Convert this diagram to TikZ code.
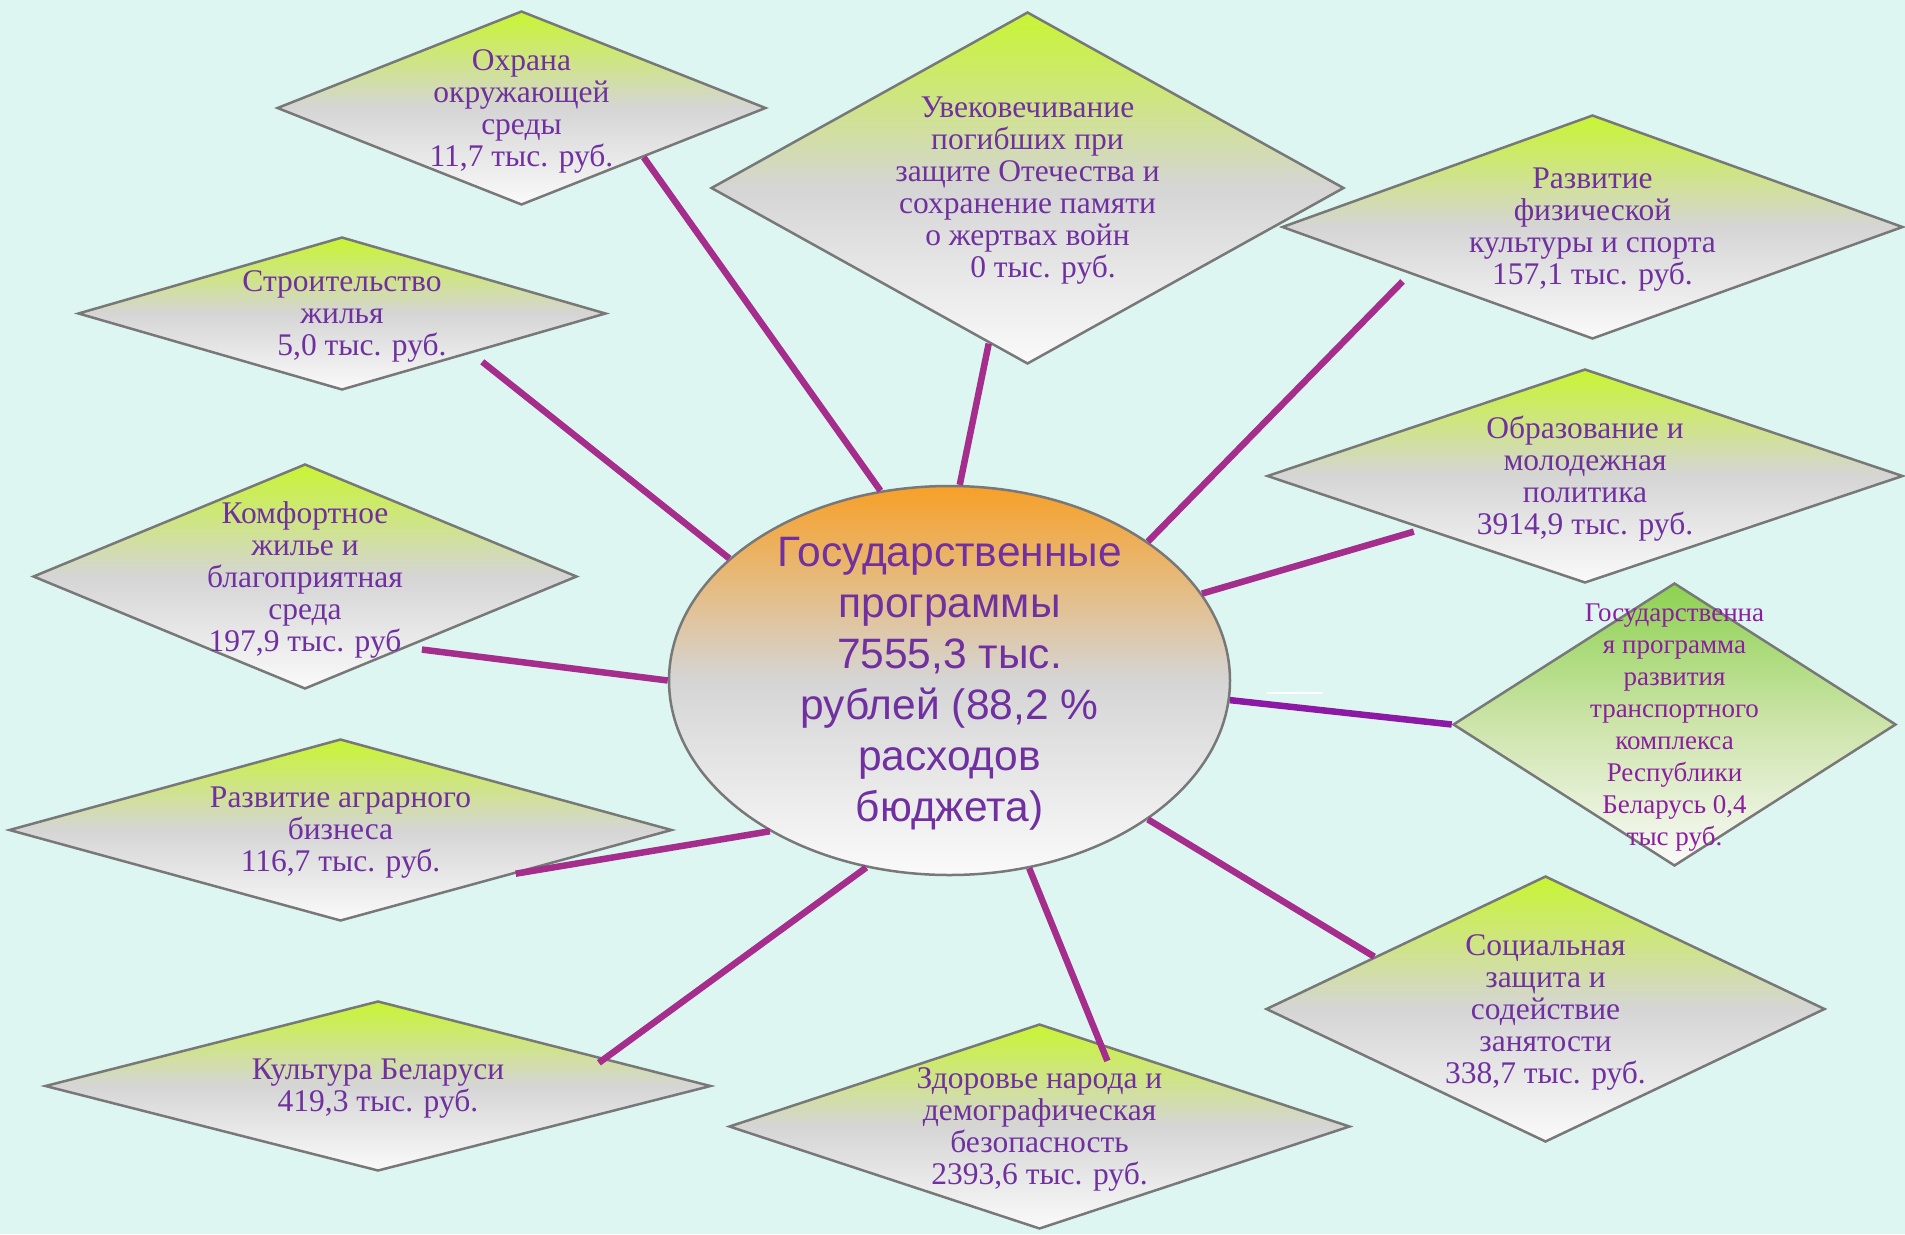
\documentclass[tikz,border=0pt]{standalone}
\usepackage{fontspec}
\setmainfont{Liberation Serif}
\newfontfamily\ellfont{Liberation Sans}
\usepackage{tikz}
\usetikzlibrary{shapes.geometric,calc}
\definecolor{bgmint}{RGB}{222,246,241}
\definecolor{dtop}{RGB}{200,245,50}
\definecolor{dmid}{RGB}{213,213,213}
\definecolor{dbot}{RGB}{250,250,250}
\definecolor{ttop}{RGB}{140,210,80}
\definecolor{tmid}{RGB}{205,228,170}
\definecolor{etop}{RGB}{247,160,40}
\definecolor{edgegray}{RGB}{120,120,120}
\definecolor{txtpurple}{RGB}{112,48,160}
\definecolor{txtmag}{RGB}{140,30,160}
\definecolor{linkmag}{RGB}{165,45,140}
\definecolor{linkvio}{RGB}{140,25,165}
\tikzset{
	dia/.style={diamond,draw=edgegray,line width=2.5pt,inner sep=0pt,top color=dtop,bottom color=dbot,middle color=dmid},
	dtext/.style={text=txtpurple,align=center,inner sep=0pt,yshift=-3pt,font=\fontsize{31.5}{32}\selectfont},
	link/.style={line width=6.5pt,draw=linkmag},
}

\begin{document}
\begin{tikzpicture}[x=1pt,y=-1pt]
	\fill[bgmint] (0,0) rectangle (1905,1234);
	\useasboundingbox (0,0) rectangle (1905,1234);
	\node[dia,minimum width=489pt,minimum height=194pt] (ohr) at (521.5,108) {};
	\node[dia,minimum width=633pt,minimum height=352pt] (uvek) at (1027.5,188) {};
	\node[dia,minimum width=621pt,minimum height=224pt] (sport) at (1592.5,227) {};
	\node[dia,minimum width=528pt,minimum height=153pt] (stroi) at (342,313.5) {};
	\node[dia,minimum width=636pt,minimum height=214pt] (obraz) at (1585,476) {};
	\node[dia,minimum width=544pt,minimum height=225pt] (komf) at (305,576.5) {};
	\node[dia,minimum width=443pt,minimum height=283pt,top color=ttop,bottom color=dbot,middle color=tmid] (trans) at (1674.5,724.5) {};
	\node[dia,minimum width=663pt,minimum height=182pt] (agr) at (340.5,830) {};
	\node[dia,minimum width=559pt,minimum height=266pt] (soc) at (1545.5,1009) {};
	\node[dia,minimum width=666pt,minimum height=170pt] (kult) at (378,1086) {};
	\node[dia,minimum width=621pt,minimum height=205pt] (zdor) at (1039.5,1126.5) {};
	\node[ellipse,draw=edgegray,line width=2.5pt,inner sep=0pt,minimum width=561pt,minimum height=389pt,top color=etop,bottom color=dbot,middle color=dmid] (prog) at (949.5,680.5) {};

	\draw[link] (prog.110) -- (ohr.-22);
	\draw[link] (prog.87) -- (uvek.-104);
	\draw[link] (prog.35) -- ($(sport)!1.09!(sport.-164)$);
	\draw[link] (prog.151.5) -- ($(stroi)!1.15!(stroi.-19)$);
	\draw[link] (prog.19) -- ($(obraz)!1.05!(obraz.-162)$);
	\draw[link] (prog.180) -- ($(komf)!1.07!(komf.-32.6)$);
	\draw[link,draw=linkvio] (prog.-4.6) -- (trans.west);
	\draw[link] (prog.-140) -- (agr.-14);
	\draw[link] (prog.-35) -- (soc.163);
	\draw[link] (prog.-114) -- ($(kult)!0.93!(kult.6.5)$);
	\draw[link] (prog.-67) -- ($(zdor)!0.85!(zdor.44)$);
	\draw[white,line width=2pt] (1267,693) -- (1323,693);

	\node[dtext] (ohrT) at (ohr) {Охрана\\окружающей\\среды\\11,7 тыс. руб.};
	\node[dtext] (uvekT) at (uvek) {Увековечивание\\погибших при\\защите Отечества и\\сохранение памяти\\о жертвах войн\\\hspace*{31pt}0 тыс. руб.};
	\node[dtext] (sportT) at (sport) {Развитие\\физической\\культуры и спорта\\157,1 тыс. руб.};
	\node[dtext] (stroiT) at (stroi) {Строительство\\жилья\\\hspace*{40pt}5,0 тыс. руб.};
	\node[dtext] (obrazT) at (obraz) {Образование и\\молодежная\\политика\\3914,9 тыс. руб.};
	\node[dtext] (komfT) at (komf) {Комфортное\\жилье и\\благоприятная\\среда\\197,9 тыс. руб};
	\node[dtext,text=txtmag,font=\fontsize{27}{32}\selectfont] (transT) at (trans) {Государственна\\я программа\\развития\\транспортного\\комплекса\\Республики\\Беларусь 0,4\\тыс руб.};
	\node[dtext] (agrT) at (agr) {Развитие аграрного\\бизнеса\\116,7 тыс. руб.};
	\node[dtext] (socT) at (soc) {Социальная\\защита и\\содействие\\занятости\\338,7 тыс. руб.};
	\node[dtext] (kultT) at (kult) {Культура Беларуси\\419,3 тыс. руб.};
	\node[dtext] (zdorT) at (zdor) {Здоровье народа и\\демографическая\\безопасность\\2393,6 тыс. руб.};
	\node[dtext,font=\ellfont\fontsize{42.5}{51}\selectfont] (progT) at (prog) {Государственные\\программы\\7555,3 тыс.\\рублей (88,2 \%\\расходов\\бюджета)};
\end{tikzpicture}
\end{document}
